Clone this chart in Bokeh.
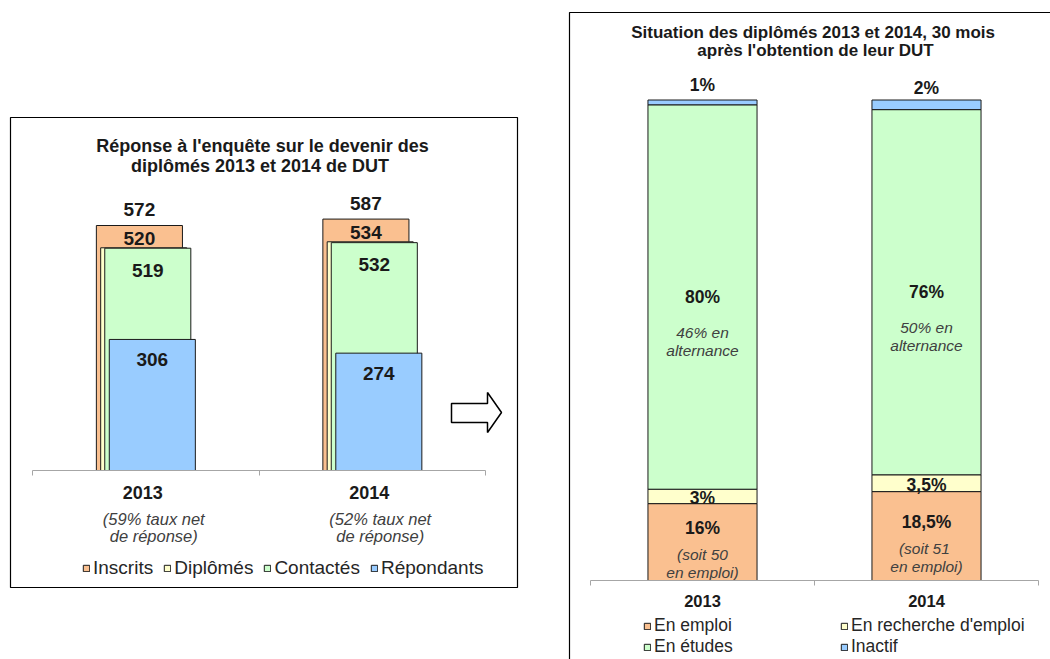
from bokeh.plotting import figure
from bokeh.models import (Range1d, FixedTicker, Legend, LegendItem, BoxAnnotation,
                          ColumnDataSource, LinearAxis)
from bokeh.layouts import row
from bokeh.embed import file_html
from bokeh.resources import INLINE
from bokeh.core.properties import value
from bokeh.transform import dodge

# ---------------- data ----------------
years = ["2013", "2014"]

# left chart: survey response
left_title = ["Réponse à l'enquête sur le devenir des", "diplômés  2013 et 2014 de DUT"]
left_series = ["Inscrits", "Diplômés", "Contactés", "Répondants"]
inscrits = [572, 587]
diplomes = [520, 534]
contactes = [519, 532]
repondants = [306, 274]
left_note1 = ["(59% taux net", "(52% taux net"]
left_note2 = ["de réponse)", "de réponse)"]

# right chart: situation 30 months later (%)
right_title = ["Situation des diplômés  2013 et 2014, 30 mois", "après l'obtention de leur DUT"]
right_series = ["En emploi", "En recherche d'emploi", "En études", "Inactif"]
en_emploi = [16, 18.5]
en_recherche = [3, 3.5]
en_etudes = [80, 76]
inactif = [1, 2]
lbl_emploi = ["16%", "18,5%"]
lbl_recherche = ["3%", "3,5%"]
lbl_etudes = ["80%", "76%"]
lbl_inactif = ["1%", "2%"]
note_emploi1 = ["(soit 50", "(soit  51"]
note_emploi2 = ["en emploi)", "en emploi)"]
note_etudes1 = ["46% en", "50% en"]
note_etudes2 = ["alternance", "alternance"]

# ---------------- styles / layout ----------------
ORANGE, YELLOW, GREEN, BLUE = "#FAC090", "#FFFFCC", "#CCFFCC", "#99CCFF"
left_colors = [ORANGE, YELLOW, GREEN, BLUE]
right_colors = [ORANGE, YELLOW, GREEN, BLUE]
FONT_NAME = "Liberation Sans"
FONT = value(FONT_NAME)
TXT = "#1a1a1a"
NOTE = "#404040"
EDGE = "#1a1a1a"
AXIS_COL = "#A6A6A6"

PAGE_W, PAGE_H = 1050, 659
SPLIT = 559                       # page x where the right canvas begins

n = len(years)
centers = [i + 0.5 for i in range(n)]


def make_axis():
    return LinearAxis(fixed_location=0, bounds=(0, n),
                      ticker=FixedTicker(ticks=list(range(n + 1))),
                      major_tick_in=0, major_tick_out=5,
                      minor_tick_line_color=None,
                      major_label_overrides={i: "" for i in range(n + 1)},
                      major_label_text_color=None,
                      axis_line_color=AXIS_COL, major_tick_line_color=AXIS_COL)


def base_figure(xr, yr, w):
    p = figure(x_range=xr, y_range=yr, frame_width=w, frame_height=PAGE_H,
               min_border=0, x_axis_type=None, y_axis_type=None,
               output_backend="svg", toolbar_location=None)
    p.outline_line_color = None
    p.add_layout(make_axis(), "below")
    return p


# ================= LEFT PANEL =================
L_AX0, L_AX1, L_AXY = 32, 485, 470          # axis start / end / baseline (page px)
L_BOX = (10, 117, 517, 587)                 # left, top, right, bottom (page px)
L_UX = (L_AX1 - L_AX0) / n
L_UY = 0.4283                               # px per person


def lx(px):
    return (px - L_AX0) / L_UX


def ly(py):
    return (L_AXY - py) / L_UY


pl = base_figure(Range1d(lx(0), lx(SPLIT)), Range1d(ly(PAGE_H), ly(0)), SPLIT)
pl.add_layout(BoxAnnotation(left=lx(L_BOX[0]), right=lx(L_BOX[2]), top=ly(L_BOX[1]),
                            bottom=ly(L_BOX[3]), fill_color=None, line_color="black",
                            line_alpha=1.0, line_width=1.2, level="underlay"))

src_l = ColumnDataSource(dict(
    x=centers, year=years, note1=left_note1, note2=left_note2,
    inscrits=inscrits, diplomes=diplomes, contactes=contactes, repondants=repondants,
    t_ins=[str(v) for v in inscrits], t_dip=[str(v) for v in diplomes],
    t_con=[str(v) for v in contactes], t_rep=[str(v) for v in repondants]))

left_keys = ["inscrits", "diplomes", "contactes", "repondants"]
left_offsets = [-0.028, -0.009, 0.009, 0.029]
BAR_W_L = 0.38
left_renderers = []
for key, off, col in zip(left_keys, left_offsets, left_colors):
    r = pl.vbar(x=dodge("x", off, range=pl.x_range), top=key, bottom=0, width=BAR_W_L,
                source=src_l, fill_color=col, line_color=EDGE, line_width=1)
    left_renderers.append(r)

lab_kw = dict(source=src_l, text_font=FONT, text_font_style="bold", text_font_size="19px",
              text_align="center", text_baseline="middle", text_color=TXT)
pl.text(x=dodge("x", left_offsets[0], range=pl.x_range), y="inscrits", text="t_ins", y_offset=-16, **lab_kw)
pl.text(x=dodge("x", left_offsets[0], range=pl.x_range), y="diplomes", text="t_dip", y_offset=-9, **lab_kw)
pl.text(x=dodge("x", left_offsets[2], range=pl.x_range), y="contactes", text="t_con", y_offset=22, **lab_kw)
pl.text(x=dodge("x", left_offsets[3], range=pl.x_range), y="repondants", text="t_rep", y_offset=20, **lab_kw)

# category labels
pl.text(x="x", y=ly(492), text="year", x_offset=-3, source=src_l, text_font=FONT,
        text_font_style="bold", text_font_size="18px", text_align="center",
        text_baseline="middle", text_color=TXT)
pl.text(x="x", y=ly(518), text="note1", x_offset=8, source=src_l, text_font=FONT,
        text_font_style="italic", text_font_size="16.5px", text_align="center",
        text_baseline="middle", text_color=NOTE)
pl.text(x="x", y=ly(535), text="note2", x_offset=8, source=src_l, text_font=FONT,
        text_font_style="italic", text_font_size="16.5px", text_align="center",
        text_baseline="middle", text_color=NOTE)

# title
pl.text(x=[lx(262)] * 2, y=[ly(145), ly(165)], text=left_title, text_font=FONT,
        text_font_style="bold", text_font_size="18px", text_align="center",
        text_baseline="middle", text_color=TXT)

# block arrow pointing to the right panel
arrow_px = [(451, 403), (487, 403), (487, 392), (501, 412), (487, 432), (487, 422), (451, 422)]
pl.patch(x=[lx(a) for a, b in arrow_px], y=[ly(b) for a, b in arrow_px],
         fill_color="white", line_color="black", line_width=1.5)

leg_l = Legend(items=[LegendItem(label=s, renderers=[r]) for s, r in zip(left_series, left_renderers)],
               orientation="horizontal", location=(82, PAGE_H - 579),
               label_text_font=FONT_NAME, label_text_font_size="19px", label_text_color="#262626",
               glyph_width=8, glyph_height=8, label_standoff=3, spacing=10,
               padding=0, margin=0, border_line_color=None, background_fill_alpha=0)
pl.add_layout(leg_l)

# ================= RIGHT PANEL =================
R_AX0, R_AX1, R_AXY = 590, 1038, 580
R_BOX = (569, 12)                            # left, top of the (open-ended) frame
R_UX = (R_AX1 - R_AX0) / n
R_UY = 4.805                                 # px per percent


def rx(px):
    return (px - R_AX0) / R_UX


def ry(py):
    return (R_AXY - py) / R_UY


pr = base_figure(Range1d(rx(SPLIT), rx(PAGE_W)), Range1d(ry(PAGE_H), ry(0)), PAGE_W - SPLIT)
pr.add_layout(BoxAnnotation(left=rx(R_BOX[0]), right=rx(PAGE_W + 20), top=ry(R_BOX[1]),
                            bottom=ry(PAGE_H + 20), fill_color=None, line_color="black",
                            line_alpha=1.0, line_width=1.2, level="underlay"))

emp_c = [e / 2 for e in en_emploi]
rec_c = [e + r / 2 for e, r in zip(en_emploi, en_recherche)]
etu_c = [e + r + s / 2 for e, r, s in zip(en_emploi, en_recherche, en_etudes)]
ina_c = [e + r + s + i / 2 for e, r, s, i in zip(en_emploi, en_recherche, en_etudes, inactif)]

src_r = ColumnDataSource(dict(
    x=centers, year=years,
    emploi=en_emploi, recherche=en_recherche, etudes=en_etudes, inactif=inactif,
    emp_c=emp_c, rec_c=rec_c, etu_c=etu_c, ina_c=ina_c,
    l_emp=lbl_emploi, l_rec=lbl_recherche, l_etu=lbl_etudes, l_ina=lbl_inactif,
    n_emp1=note_emploi1, n_emp2=note_emploi2, n_etu1=note_etudes1, n_etu2=note_etudes2))

right_renderers = pr.vbar_stack(["emploi", "recherche", "etudes", "inactif"], x="x", width=0.487,
                                source=src_r, fill_color=right_colors, line_color=EDGE, line_width=1)

bold_r = dict(source=src_r, text_font=FONT, text_font_style="bold", text_font_size="17.5px",
              text_align="center", text_baseline="middle", text_color=TXT)
ital_r = dict(source=src_r, text_font=FONT, text_font_style="italic", text_font_size="15.5px",
              text_align="center", text_baseline="middle", text_color=NOTE)
pr.text(x="x", y="ina_c", text="l_ina", y_offset=-17, **bold_r)
pr.text(x="x", y="etu_c", text="l_etu", y_offset=0, **bold_r)
pr.text(x="x", y="etu_c", text="n_etu1", y_offset=35, **ital_r)
pr.text(x="x", y="etu_c", text="n_etu2", y_offset=53, **ital_r)
pr.text(x="x", y="rec_c", text="l_rec", y_offset=2, **bold_r)
pr.text(x="x", y="emp_c", text="l_emp", y_offset=-14, **bold_r)
pr.text(x="x", y="emp_c", text="n_emp1", y_offset=12, **ital_r)
pr.text(x="x", y="emp_c", text="n_emp2", y_offset=30, **ital_r)

pr.text(x="x", y=ry(600), text="year", source=src_r, text_font=FONT, text_font_style="bold",
        text_font_size="16.5px", text_align="center", text_baseline="middle", text_color=TXT)

pr.text(x=[rx(815)] * 2, y=[ry(32), ry(50)], text=right_title, text_font=FONT,
        text_font_style="bold", text_font_size="17px", text_align="center",
        text_baseline="middle", text_color=TXT)

leg_kw = dict(orientation="vertical", label_text_font=FONT_NAME, label_text_font_size="17.5px",
              label_text_color="#262626", glyph_width=8, glyph_height=8, label_standoff=3,
              spacing=0, padding=0, margin=0, border_line_color=None, background_fill_alpha=0,
              label_height=18)
leg_r1 = Legend(items=[LegendItem(label=right_series[0], renderers=[right_renderers[0]]),
                       LegendItem(label=right_series[2], renderers=[right_renderers[2]])],
                location=(643 - SPLIT, 2), **leg_kw)
leg_r2 = Legend(items=[LegendItem(label=right_series[1], renderers=[right_renderers[1]]),
                       LegendItem(label=right_series[3], renderers=[right_renderers[3]])],
                location=(840 - SPLIT, 2), **leg_kw)
pr.add_layout(leg_r1)
pr.add_layout(leg_r2)

page = row(pl, pr, spacing=0)
open("out.html", "w").write(file_html(page, INLINE))
